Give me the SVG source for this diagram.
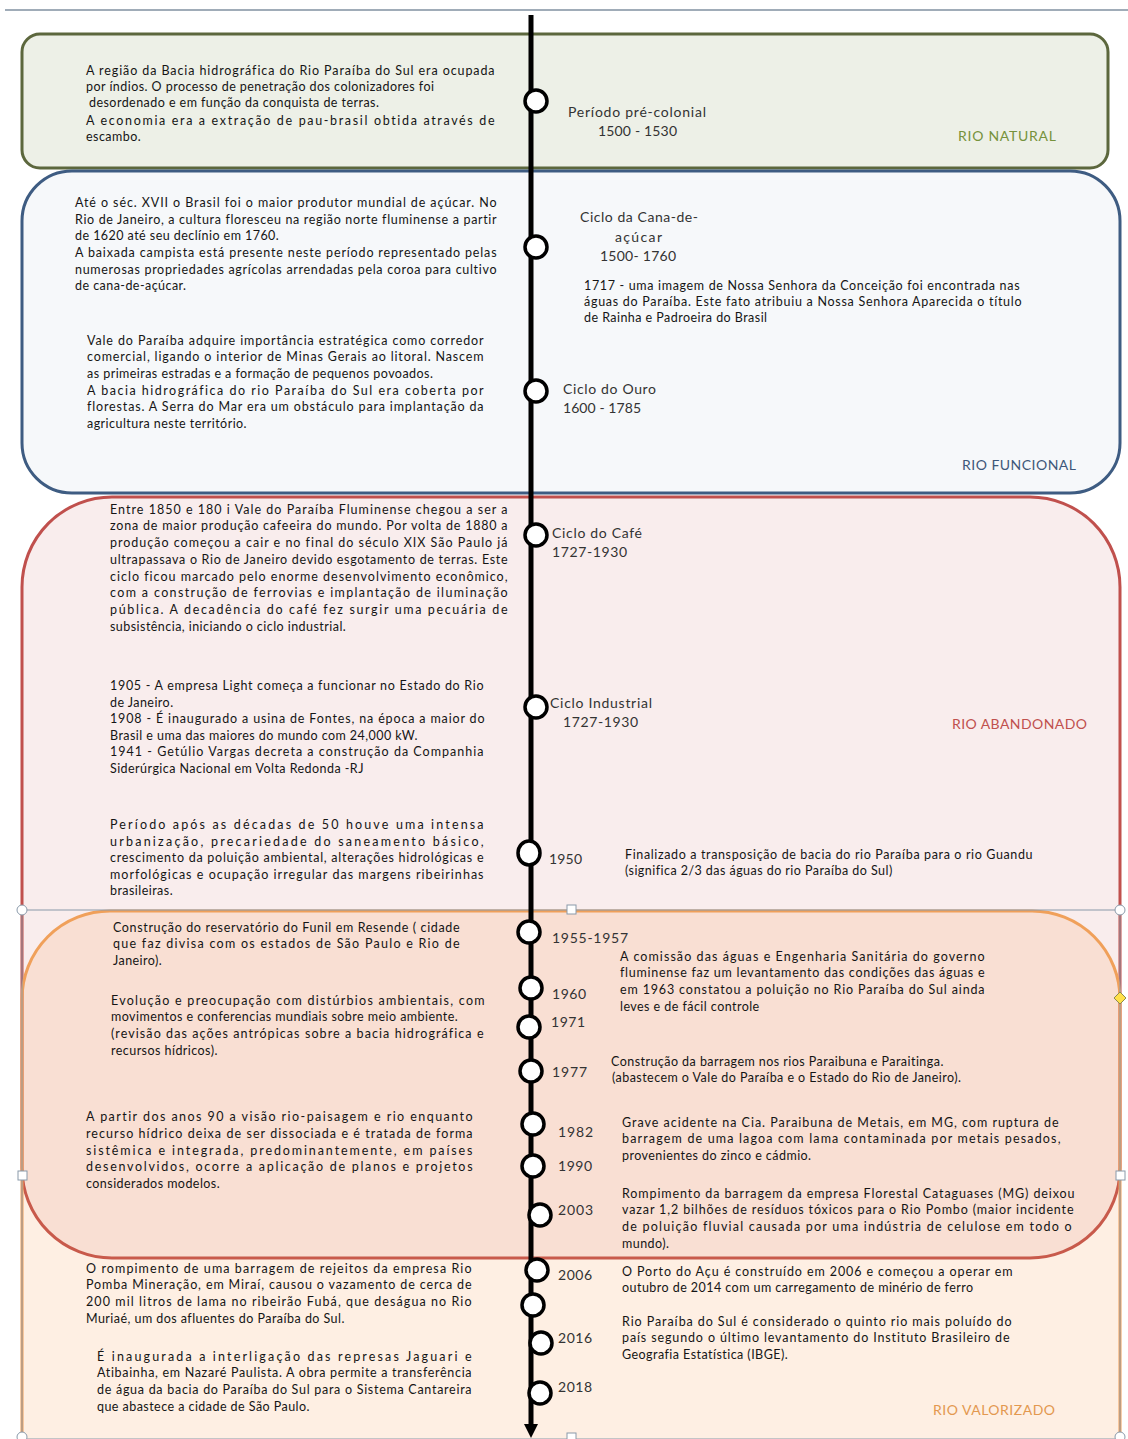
<svg xmlns="http://www.w3.org/2000/svg" width="1128" height="1439" viewBox="0 0 1128 1439">
<style>
.t{font-family:Lato,"Liberation Sans",sans-serif;font-size:12.5px;letter-spacing:0.45px;fill:#151515}
.l{font-family:Lato,"Liberation Sans",sans-serif;font-size:14px;fill:#333}
.s{font-family:Lato,"Liberation Sans",sans-serif;font-size:14px}
.c{fill:#fff;stroke:#000;stroke-width:3.5}
.h{fill:#fff;stroke:#8a9aaa;stroke-width:1}
</style>
<rect width="1128" height="1439" fill="#fff"/>
<line x1="5" y1="10" x2="1128" y2="10" stroke="#8090a0" stroke-width="1.5"/>

<g id="box-natural">
<rect x="22" y="34" width="1086" height="134" rx="18" fill="#edf0e7" stroke="#5c673d" stroke-width="3"/>
<text class="s" x="958" y="141" fill="#76923c" textLength="98">RIO NATURAL</text>
</g>
<g id="box-funcional">
<rect x="22" y="171" width="1098" height="322" rx="50" fill="#f6f8fa" stroke="#3e5c82" stroke-width="3"/>
<text class="s" x="962" y="470" fill="#3e5779" textLength="114">RIO FUNCIONAL</text>
</g>
<g id="box-abandonado">
<rect x="22" y="497" width="1098" height="761" rx="90" fill="#c0504d" fill-opacity="0.1" stroke="#c0504d" stroke-width="3"/>
<text class="s" x="952" y="729" fill="#c0504d" textLength="135">RIO ABANDONADO</text>
</g>
<g id="box-valorizado">
<rect x="22" y="911" width="1098" height="610" rx="88" fill="#f79646" fill-opacity="0.15" stroke="#f0a05a" stroke-width="3"/>
<text class="s" x="933" y="1415" fill="#e3984f" textLength="122">RIO VALORIZADO</text>
</g>
<g id="selection">
<rect x="22" y="910" width="1098" height="529" fill="none" stroke="#8a9aaa" stroke-width="1"/>
<circle class="h" cx="22" cy="910" r="5"/>
<circle class="h" cx="1120" cy="910" r="5"/>
<rect class="h" x="567" y="905" width="9" height="9"/>
<rect class="h" x="18" y="1171" width="9" height="9"/>
<rect class="h" x="1116" y="1171" width="9" height="9"/>
<rect class="h" x="567" y="1433" width="9" height="9"/>
<circle class="h" cx="22" cy="1437" r="5"/>
<circle class="h" cx="1120" cy="1437" r="5"/>
<path d="M1120,992 L1126,998 L1120,1004 L1114,998 Z" fill="#ffe04a" stroke="#8a8a50" stroke-width="1"/>
</g>

<g id="connectors">
<line x1="531" y1="15" x2="531" y2="1426" stroke="#000" stroke-width="5"/>
<path d="M524,1424 L538,1424 L531,1438 Z" fill="#000"/>
</g>

<g id="circles">
<circle class="c" cx="536" cy="101" r="11"/>
<circle class="c" cx="536" cy="247" r="11"/>
<circle class="c" cx="536" cy="391" r="11"/>
<circle class="c" cx="536" cy="535" r="11"/>
<circle class="c" cx="536" cy="707" r="11"/>
<ellipse class="c" cx="529" cy="853" rx="11" ry="12"/>
<circle class="c" cx="529" cy="932" r="11"/>
<circle class="c" cx="531" cy="988" r="11"/>
<circle class="c" cx="529" cy="1027" r="11"/>
<circle class="c" cx="531" cy="1071" r="11"/>
<circle class="c" cx="533" cy="1124" r="11"/>
<circle class="c" cx="533" cy="1166" r="11"/>
<circle class="c" cx="540" cy="1215" r="11"/>
<circle class="c" cx="537" cy="1270" r="11"/>
<circle class="c" cx="533" cy="1305" r="11"/>
<circle class="c" cx="541" cy="1343" r="11"/>
<circle class="c" cx="540" cy="1393" r="11"/>
</g>

<g id="labels">
<text class="l" x="568" y="117" textLength="138">Período pré-colonial</text>
<text class="l" x="598" y="136" textLength="79">1500 - 1530</text>
<text class="l" x="580" y="222" textLength="118">Ciclo da Cana-de-</text>
<text class="l" x="615" y="242" textLength="47">açúcar</text>
<text class="l" x="600" y="261" textLength="76">1500- 1760</text>
<text class="l" x="563" y="394" textLength="93">Ciclo do Ouro</text>
<text class="l" x="563" y="413" textLength="78">1600 - 1785</text>
<text class="l" x="552" y="538" textLength="90">Ciclo do Café</text>
<text class="l" x="552" y="557" textLength="75">1727-1930</text>
<text class="l" x="550" y="708" textLength="102">Ciclo Industrial</text>
<text class="l" x="563" y="727" textLength="75">1727-1930</text>
<text class="l" x="549" y="864" textLength="33">1950</text>
<text class="l" x="552" y="943" textLength="76">1955-1957</text>
<text class="l" x="552" y="999" textLength="34">1960</text>
<text class="l" x="551" y="1027" textLength="34">1971</text>
<text class="l" x="552" y="1077" textLength="35">1977</text>
<text class="l" x="558" y="1137" textLength="35">1982</text>
<text class="l" x="558" y="1171" textLength="34">1990</text>
<text class="l" x="558" y="1215" textLength="35">2003</text>
<text class="l" x="558" y="1280" textLength="34">2006</text>
<text class="l" x="558" y="1343" textLength="34">2016</text>
<text class="l" x="558" y="1392" textLength="34">2018</text>
</g>

<g id="text-pre-colonial">
<text class="t" x="86" y="75" textLength="409">A região da Bacia hidrográfica do Rio Paraíba do Sul era ocupada</text>
<text class="t" x="86" y="91">por índios. O processo de penetração dos colonizadores foi</text>
<text class="t" x="89" y="107">desordenado e em função da conquista de terras.</text>
<text class="t" x="86" y="125" textLength="409">A economia era a extração de pau-brasil obtida através de</text>
<text class="t" x="86" y="141">escambo.</text>
</g>
<g id="text-cana">
<text class="t" x="75" y="207" textLength="422">Até o séc. XVII o Brasil foi o maior produtor mundial de açúcar. No</text>
<text class="t" x="75" y="224" textLength="422">Rio de Janeiro, a cultura floresceu na região norte fluminense a partir</text>
<text class="t" x="75" y="240">de 1620 até seu declínio em 1760.</text>
<text class="t" x="75" y="257" textLength="422">A baixada campista está presente neste período representado pelas</text>
<text class="t" x="75" y="274" textLength="422">numerosas propriedades agrícolas arrendadas pela coroa para cultivo</text>
<text class="t" x="75" y="290">de cana-de-açúcar.</text>
</g>
<g id="text-1717">
<text class="t" x="584" y="290" textLength="436">1717 - uma imagem de Nossa Senhora da Conceição foi encontrada nas</text>
<text class="t" x="584" y="306" textLength="438">águas do Paraíba. Este fato atribuiu a Nossa Senhora Aparecida o título</text>
<text class="t" x="584" y="322">de Rainha e Padroeira do Brasil</text>
</g>
<g id="text-ouro">
<text class="t" x="87" y="345" textLength="397">Vale do Paraíba adquire importância estratégica como corredor</text>
<text class="t" x="87" y="361" textLength="397">comercial, ligando o interior de Minas Gerais ao litoral. Nascem</text>
<text class="t" x="87" y="378">as primeiras estradas e a formação de pequenos povoados.</text>
<text class="t" x="87" y="395" textLength="397">A bacia hidrográfica do rio Paraíba do Sul era coberta por</text>
<text class="t" x="87" y="411" textLength="397">florestas. A Serra do Mar era um obstáculo para implantação da</text>
<text class="t" x="87" y="428">agricultura neste território.</text>
</g>
<g id="text-cafe">
<text class="t" x="110" y="514" textLength="398">Entre 1850 e 180 i Vale do Paraíba Fluminense chegou a ser a</text>
<text class="t" x="110" y="530" textLength="398">zona de maior produção cafeeira do mundo. Por volta de 1880 a</text>
<text class="t" x="110" y="547" textLength="398">produção começou a cair e no final do século XIX São Paulo já</text>
<text class="t" x="110" y="564" textLength="398">ultrapassava o Rio de Janeiro devido esgotamento de terras. Este</text>
<text class="t" x="110" y="581" textLength="398">ciclo ficou marcado pelo enorme desenvolvimento econômico,</text>
<text class="t" x="110" y="597" textLength="398">com a construção de ferrovias e implantação de iluminação</text>
<text class="t" x="110" y="614" textLength="398">pública. A decadência do café fez surgir uma pecuária de</text>
<text class="t" x="110" y="631">subsistência, iniciando o ciclo industrial.</text>
</g>
<g id="text-industrial">
<text class="t" x="110" y="690" textLength="374">1905 - A empresa Light começa a funcionar no Estado do Rio</text>
<text class="t" x="110" y="707">de Janeiro.</text>
<text class="t" x="110" y="723" textLength="375">1908 - É inaugurado a usina de Fontes, na época a maior do</text>
<text class="t" x="110" y="740">Brasil e uma das maiores do mundo com 24,000 kW.</text>
<text class="t" x="110" y="756" textLength="374">1941 - Getúlio Vargas decreta a construção da Companhia</text>
<text class="t" x="110" y="773">Siderúrgica Nacional em Volta Redonda -RJ</text>
</g>
<g id="text-1950">
<text class="t" x="110" y="829" textLength="374">Período após as décadas de 50 houve uma intensa</text>
<text class="t" x="110" y="846" textLength="374">urbanização, precariedade do saneamento básico,</text>
<text class="t" x="110" y="862" textLength="374">crescimento da poluição ambiental, alterações hidrológicas e</text>
<text class="t" x="110" y="879" textLength="374">morfológicas e ocupação irregular das margens ribeirinhas</text>
<text class="t" x="110" y="895">brasileiras.</text>
<text class="t" x="625" y="859" textLength="408">Finalizado a transposição de bacia do rio Paraíba para o rio Guandu</text>
<text class="t" x="625" y="875">(significa 2/3 das águas do rio Paraíba do Sul)</text>
</g>
<g id="text-funil">
<text class="t" x="113" y="932" textLength="347">Construção do reservatório do Funil em Resende ( cidade</text>
<text class="t" x="113" y="948" textLength="347">que faz divisa com os estados de São Paulo e Rio de</text>
<text class="t" x="113" y="965">Janeiro).</text>
</g>
<g id="text-comissao">
<text class="t" x="620" y="961" textLength="365">A comissão das águas e Engenharia Sanitária do governo</text>
<text class="t" x="620" y="977" textLength="365">fluminense faz um levantamento das condições das águas e</text>
<text class="t" x="620" y="994" textLength="365">em 1963 constatou a poluição no Rio Paraíba do Sul ainda</text>
<text class="t" x="620" y="1011">leves e de fácil controle</text>
</g>
<g id="text-1971">
<text class="t" x="111" y="1005" textLength="374">Evolução e preocupação com distúrbios ambientais, com</text>
<text class="t" x="111" y="1021">movimentos e conferencias mundiais sobre meio ambiente.</text>
<text class="t" x="111" y="1038" textLength="373">(revisão das ações antrópicas sobre a bacia hidrográfica e</text>
<text class="t" x="111" y="1055">recursos hídricos).</text>
</g>
<g id="text-1977">
<text class="t" x="611" y="1066">Construção da barragem nos rios Paraibuna e Paraitinga.</text>
<text class="t" x="612" y="1082">(abastecem o Vale do Paraíba e o Estado do Rio de Janeiro).</text>
</g>
<g id="text-1990">
<text class="t" x="86" y="1121" textLength="387">A partir dos anos 90 a visão rio-paisagem e rio enquanto</text>
<text class="t" x="86" y="1138" textLength="387">recurso hídrico deixa de ser dissociada e é tratada de forma</text>
<text class="t" x="86" y="1155" textLength="387">sistêmica e integrada, predominantemente, em países</text>
<text class="t" x="86" y="1171" textLength="387">desenvolvidos, ocorre a aplicação de planos e projetos</text>
<text class="t" x="86" y="1188">considerados modelos.</text>
</g>
<g id="text-1982">
<text class="t" x="622" y="1127" textLength="437">Grave acidente na Cia. Paraibuna de Metais, em MG, com ruptura de</text>
<text class="t" x="622" y="1143" textLength="439">barragem de uma lagoa com lama contaminada por metais pesados,</text>
<text class="t" x="622" y="1160">provenientes do zinco e cádmio.</text>
</g>
<g id="text-2003">
<text class="t" x="622" y="1198" textLength="453">Rompimento da barragem da empresa Florestal Cataguases (MG) deixou</text>
<text class="t" x="622" y="1214" textLength="452">vazar 1,2 bilhões de resíduos tóxicos para o Rio Pombo (maior incidente</text>
<text class="t" x="622" y="1231" textLength="450">de poluição fluvial causada por uma indústria de celulose em todo o</text>
<text class="t" x="622" y="1248">mundo).</text>
</g>
<g id="text-mirai">
<text class="t" x="86" y="1273" textLength="386">O rompimento de uma barragem de rejeitos da empresa Rio</text>
<text class="t" x="86" y="1289" textLength="386">Pomba Mineração, em Miraí, causou o vazamento de cerca de</text>
<text class="t" x="86" y="1306" textLength="386">200 mil litros de lama no ribeirão Fubá, que deságua no Rio</text>
<text class="t" x="86" y="1323">Muriaé, um dos afluentes do Paraíba do Sul.</text>
</g>
<g id="text-2006">
<text class="t" x="622" y="1276" textLength="391">O Porto do Açu é construído em 2006 e começou a operar em</text>
<text class="t" x="622" y="1292">outubro de 2014 com um carregamento de minério de ferro</text>
</g>
<g id="text-2016">
<text class="t" x="622" y="1326" textLength="390">Rio Paraíba do Sul é considerado o quinto rio mais poluído do</text>
<text class="t" x="622" y="1342" textLength="388">país segundo o último levantamento do Instituto Brasileiro de</text>
<text class="t" x="622" y="1359">Geografia Estatística (IBGE).</text>
</g>
<g id="text-2018">
<text class="t" x="97" y="1361" textLength="375">É inaugurada a interligação das represas Jaguari e</text>
<text class="t" x="97" y="1377" textLength="375">Atibainha, em Nazaré Paulista. A obra permite a transferência</text>
<text class="t" x="97" y="1394" textLength="375">de água da bacia do Paraíba do Sul para o Sistema Cantareira</text>
<text class="t" x="97" y="1411">que abastece a cidade de São Paulo.</text>
</g>
</svg>
